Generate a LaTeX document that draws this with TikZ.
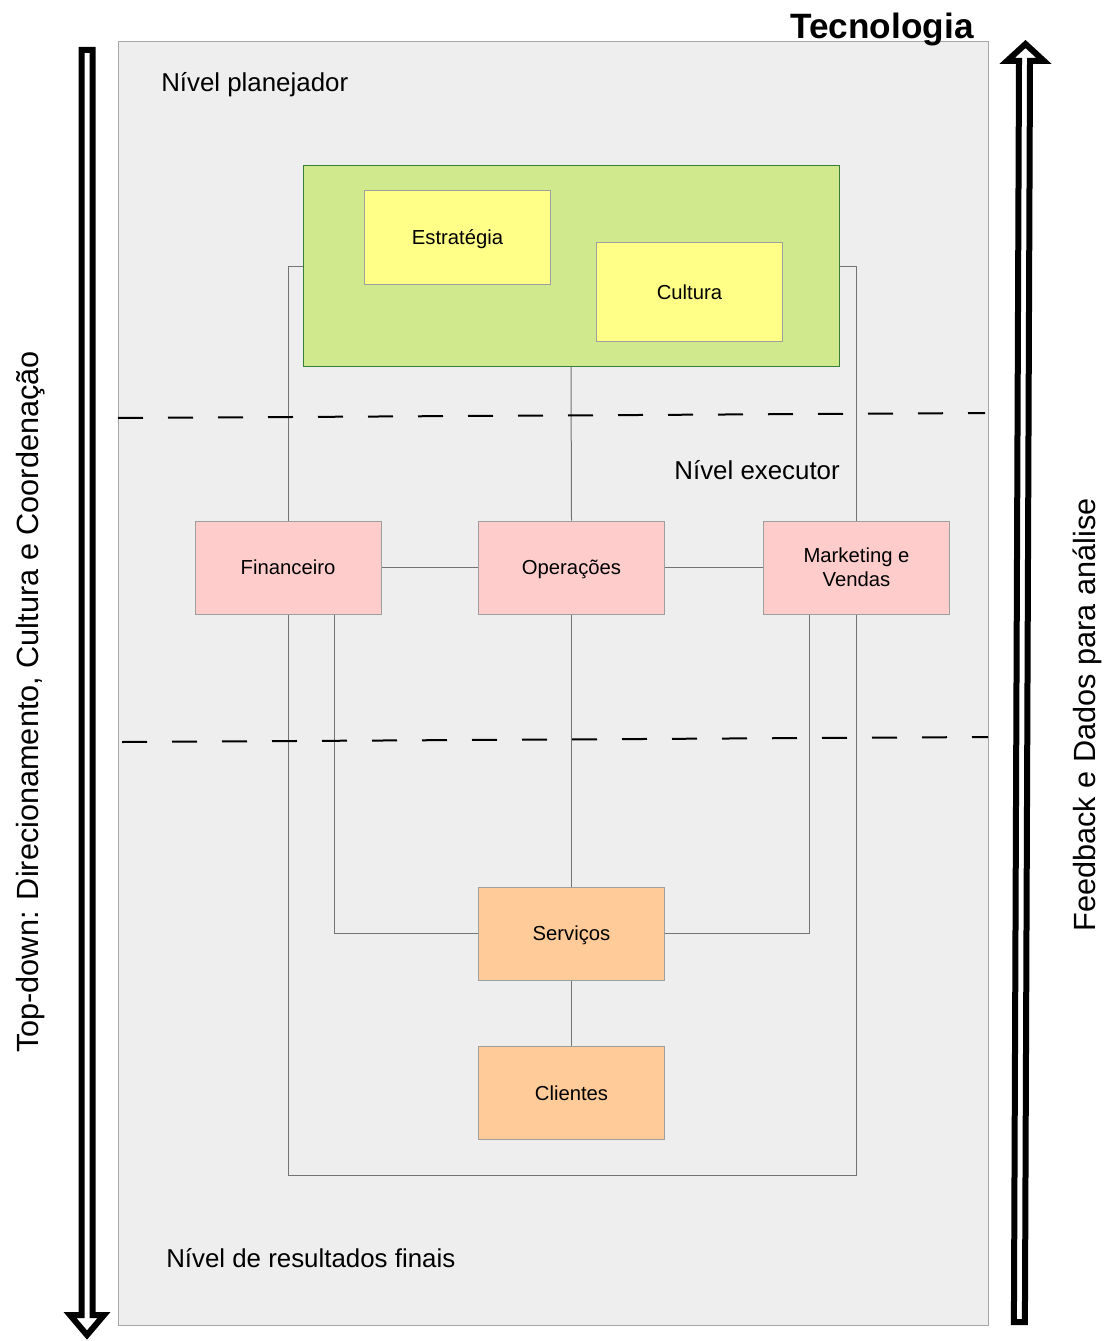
\documentclass[tikz,border=0pt]{standalone}
\usepackage{fontspec}
\setmainfont{Liberation Sans}
\usetikzlibrary{calc}

\definecolor{fundo}{HTML}{EEEEEE}
\definecolor{verde}{HTML}{D0E98D}
\definecolor{amarelo}{HTML}{FFFF88}
\definecolor{rosa}{HTML}{FFCCCC}
\definecolor{laranja}{HTML}{FFCC99}

\begin{document}
\begin{tikzpicture}[x=0.75pt, y=-0.75pt,
    caixa/.style={draw=gray!75, line width=0.75pt, minimum width=139.5pt, minimum height=69.75pt,
        inner sep=0pt, text depth=0pt, align=center, font=\fontsize{15.2}{18}\selectfont},
    nivel/.style={inner sep=0pt, font=\fontsize{19.4}{23}\selectfont},
    lateral/.style={inner sep=0pt, rotate=90, font=\fontsize{23}{27}\selectfont},
    liga/.style={draw=gray!90!black, line width=0.75pt},
    corte/.style={line width=1.5pt, dash pattern=on 18.75pt off 18.75pt},
    seta/.style={line width=4.5pt, fill=white}]

    \useasboundingbox (0, 0) rectangle (1108, 1341);

    \draw[fill=fundo, draw=gray!70, line width=0.75pt] (118, 42) rectangle (988, 1325);

    \node[font=\fontsize{26.4}{30}\selectfont\bfseries, inner sep=0pt] (tec) at (882, 29) {Tecnologia};
    \node[nivel, anchor=west] (plan) at (161, 85) {Nível planejador};
    \node[nivel, anchor=east] (exec) at (840, 470) {Nível executor};
    \node[nivel, anchor=west] (fim) at (166, 1258) {Nível de resultados finais};

    \node[caixa, fill=verde, draw=gray!60!green!70!black, minimum width=402pt, minimum height=150pt] (grp) at (571, 266) {};
    \node[caixa, fill=amarelo] (estr) at (457.5, 237.5) {Estratégia};
    \node[caixa, fill=amarelo, minimum height=73.5pt] (cult) at (689.5, 292) {Cultura};

    \node[caixa, fill=rosa] (fin) at (288, 567.5) {Financeiro};
    \node[caixa, fill=rosa] (ope) at (571.5, 567.5) {Operações};
    \node[caixa, fill=rosa] (mkt) at (856.5, 567.5) {Marketing e\\Vendas};

    \node[caixa, fill=laranja] (serv) at (571.5, 933.5) {Serviços};
    \node[caixa, fill=laranja] (cli) at (571.5, 1093) {Clientes};

    \coordinate (base) at (571.5, 1175);

    \draw[liga] (grp.west) -| (fin.north);
    \draw[liga] (grp.east) -| (mkt.north);
    \draw[liga] (grp.south) -- (ope.north);
    \draw[liga] (fin) -- (ope);
    \draw[liga] (ope) -- (mkt);
    \draw[liga] (ope) -- (serv);
    \draw[liga] (serv) -- (cli);
    \draw[liga] ($(fin.south west)!0.75!(fin.south east)$) |- (serv.west);
    \draw[liga] ($(mkt.south west)!0.25!(mkt.south east)$) |- (serv.east);
    \draw[liga] (fin.south) |- (base) -| (mkt.south);

    \draw[corte] (118, 418) -- (985, 413);
    \draw[corte] (122, 742) -- (988, 737);

    \draw[seta] (81.5, 50) -- (92.5, 50) -- (92.5, 1315) -- (104, 1315) -- (87, 1335)
        -- (70, 1315) -- (81.5, 1315) -- cycle;
    \draw[seta] (1013.9, 1322) -- (1019, 61) -- (1007, 61) -- (1025.5, 44) -- (1044, 61)
        -- (1030, 61) -- (1024.9, 1322) -- cycle;

    \node[lateral] (desce) at (31, 702) {Top-down: Direcionamento, Cultura e Coordenação};
    \node[lateral] (sobe) at (1087, 715) {Feedback e Dados para análise};
\end{tikzpicture}
\end{document}
